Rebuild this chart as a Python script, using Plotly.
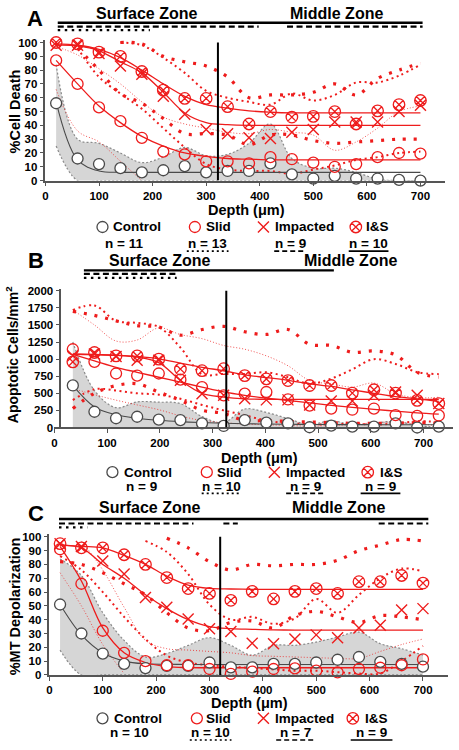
import plotly.graph_objects as go

W, H = 459, 750
FONT = "Liberation Sans, Arial, sans-serif"
RED = "#ee1c1c"
AXIS = "#555555"
CTRL = "#4a4a4a"
BAND = "#d6d6d6"

# ------------------------------------------------------------------ data
depth_A = [20, 60, 100, 140, 180, 220, 260, 300, 340, 380, 420, 460, 500, 540, 580, 620, 660, 700]
depth_B = [35, 76, 117, 157, 198, 239, 280, 321, 361, 402, 443, 484, 525, 565, 606, 647, 688, 729]
depth_C = [20, 60, 100, 140, 180, 220, 260, 300, 340, 380, 420, 460, 500, 540, 580, 620, 660, 700]

# Panel A  (%Cell Death)
ctrl_A = [56, 16, 12, 9, 6, 7.5, 10.5, 6, 7, 7, 12.5, 4.5, 1.5, 3.5, 1.5, 1.5, 0.5, 0]
slid_A = [87, 70, 53, 43, 31, 21, 19, 14, 14, 12.5, 17, 15.5, 13, 10, 12, 17, 20, 19.5]
imp_A = [98, 98, 92, 83, 77, 61, 48, 37, 34, 31, 30.5, 35, 37, 42.5, 42.5, 42.5, 50, 54.5]
is_A = [100, 99, 93, 90, 79, 65.5, 59.5, 59.5, 53.5, 41, 50, 46, 46.5, 50, 41, 50.5, 55, 58]
ctrl_fit_A = [57, 15, 7, 6, 6, 6, 6, 6, 6, 6, 6, 6, 6, 6, 6, 6, 6, 6]
slid_fit_A = [87, 70, 54, 42, 32, 25, 20, 17.5, 16, 15.5, 15, 15, 15, 15, 15, 15, 15, 15]
imp_fit_A = [98, 97.5, 94, 86, 78, 64, 49, 42, 40.5, 40, 40, 40, 40, 40, 40, 40, 40, 40]
is_fit_A = [99, 98, 95, 89, 80, 70, 61, 55, 52.5, 50.5, 49.5, 49, 49, 49, 49, 49, 49, 49]
ctrl_hi_A = [84, 30, 27, 20, 13, 17, 24, 18, 19, 27, 41, 16, 9, 9, 6, 1, 0, 0]
ctrl_lo_A = [25, 0, 0, 0, 0, 0, 0, 0, 0, 0, 0, 0, 0, 0, 0, 0, 0, 0]
slid_hi_A = [97, 91, 81, 70, 57, 46, 41, 38, 35, 34, 37, 35, 33, 22, 28, 38, 50, 54]
slid_lo_A = [66, 36, 28, 14, 0, None, None, None, None, None, None, None, None, None, None, None, None, None]
imp_hi_A = [None, None, None, 100, 98, 89, 78, 65, 60, 57, 55, 63, 58, 62, 71, 71, 76, 84]
imp_lo_A = [None, 96, 75, 63, 52, 38, 24, 12, 8, 7, 7, 5, 8, 11, 15, 17, 20, 21]
is_hi_A = [None, None, None, 100, 99, 90, 86, 83, 75, 60, 62, 62, 64, 70, 62, 74, 80, 85]
is_lo_A = [None, 96, 80, 63, 56, 45, 34, 34, 33, 26, 33, 33, 29, 27, 28, 29, 30, 30]

# Panel B  (Apoptotic cells / mm2)
ctrl_B = [615, 230, 135, 157, 115, 108, 61, 22, 108, 71, 61, 3, 27, 12, 12, 61, 0, 12]
slid_B = [1145, 960, 790, 760, 790, 700, 591, 470, 494, 519, 410, 320, 277, 260, 277, 181, 170, 176]
imp_B = [1050, 1075, 1040, 985, 985, 690, 494, 470, 422, 404, 404, 330, 388, 388, 470, 519, 470, 350]
is_B = [960, 1097, 1048, 1048, 1000, 855, 831, 860, 759, 711, 687, 614, 614, 504, 552, 504, 397, 350]
ctrl_fit_B = [615, 300, 185, 135, 105, 85, 72, 62, 55, 50, 47, 45, 43, 42, 41, 40, 40, 40]
slid_fit_B = [1070, 975, 880, 808, 735, 663, 590, 520, 470, 430, 395, 360, 325, 295, 265, 240, 215, 195]
imp_fit_B = [1070, 1065, 1055, 1030, 950, 690, 500, 445, 418, 412, 410, 410, 410, 410, 410, 410, 410, 410]
is_fit_B = [1075, 1070, 1060, 1040, 1005, 940, 880, 830, 770, 730, 690, 640, 600, 550, 500, 450, 420, 380]
ctrl_hi_B = [1250, 540, 290, 375, 370, 350, 160, 70, 270, 220, 130, 40, 100, 40, 60, 90, 30, 0]
ctrl_lo_B = [0, 0, 0, 0, 0, 0, 0, 0, 0, 0, 0, 0, 0, 0, 0, 0, 0, 0]
slid_hi_B = [1720, 1500, 1265, 1280, 1458, 1360, 1300, 1200, 1145, 1048, 903, 687, 639, 591, 649, 494, 436, 442]
slid_lo_B = [570, 480, 400, 330, 260, 170, 100, 70, 50, 40, 30, 20, 30, 40, 70, 80, 50, 30]
imp_hi_B = [1720, 1785, 1560, 1530, 1470, 1170, 780, 783, 783, 808, 735, 640, 715, 850, 1000, 930, 810, 780]
imp_lo_B = [400, 560, 540, 500, 480, 420, 330, 250, 180, 100, 60, 50, 40, 60, 40, 60, 90, 80]
is_hi_B = [1700, 1640, 1560, 1490, 1470, 1350, 1433, 1480, 1400, 1361, 1433, 1217, 1200, 1100, 1120, 1062, 808, 735]
is_lo_B = [277, 500, 614, 639, 519, 397, 253, 205, 104, 100, 90, 80, 70, 60, 60, 60, 70, 60]

# Panel C  (%MT Depolarization)
ctrl_C = [51, 30, 15.5, 8, 5, 6.5, 6.5, 9, 5.5, 5.5, 8, 8, 9, 11, 13, 9.5, 8, 6]
slid_C = [91, 66, 32, 16, 10, 7, 7, 4.3, 0.7, 2.4, 4.3, 4.8, 3.1, 1.9, 4.3, 5.2, 7, 11.2]
imp_C = [95, 93, 82.5, 73, 56, 49, 40.5, 33.5, 31.5, 23, 22.5, 26, 29, 27, 34, 36, 47, 48]
is_C = [95, 92, 92, 87, 80, 70.5, 62.5, 59, 54, 60.5, 55, 60.5, 62.5, 59, 67.5, 67.5, 72, 66.5]
ctrl_fit_C = [51, 29, 16, 10, 8, 7.7, 7.6, 7.6, 7.6, 7.6, 7.6, 7.6, 7.6, 7.6, 7.6, 7.6, 7.6, 7.6]
slid_fit_C = [93, 68, 34, 16, 9, 6, 5.3, 5.2, 5.2, 5.2, 5.2, 5.2, 5.2, 5.2, 5.2, 5.2, 5.2, 5.2]
imp_fit_C = [94, 92, 80, 70, 58, 48, 40, 35, 33.5, 33, 32.6, 32.5, 32.5, 32.5, 32.5, 32.5, 32.5, 32.5]
is_fit_C = [94, 93, 92, 86.5, 80, 71.5, 65, 62.6, 62.2, 62, 62, 62, 62, 62, 62, 62, 62, 62]
ctrl_hi_C = [84, 72, 45, 25, 13, 15.5, 21.4, 27, 21.4, 14.3, 21.4, 21.4, 23.8, 27.4, 31, 22.6, 19, 14.3]
ctrl_lo_C = [18, 0, 0, 0, 0, 0, 0, 0, 0, 0, 0, 0, 0, 0, 0, 0, 0, 0]
slid_hi_C = [None, 97, 76, 49, 25, 19, 18, 17, 16, 14, 13.5, 13, 12.5, 12, 12, 17, 22, 26]
slid_lo_C = [74, 50, 22, 1, None, None, None, None, None, None, None, None, None, None, None, None, None, None]
imp_hi_C = [None, None, None, None, 97, 89, 73, 51, 40, 42, 37, 41, 55, 45, 58, 70, 77, 75]
imp_lo_C = [86, 76, 60, 42, 26, 14, 9, 7, 6, 5, 4, 3, 3, 2, 1, 1, 10, 21]
is_hi_C = [None, None, None, None, None, 99, 92, 82, 76, 80, 79, 80, 80, 83, 90, 94, 98, 97]
is_lo_C = [82, 80, 74, 66, 58, 45, 34, 32, 38, 39, 34, 43, 46, 42, 38, 43, 42, 40]

# zone boundary depth (vertical line) per panel
zone_A, zone_B, zone_C = 322, 326, 320

# significance bars (depth ranges) per panel: (style, start, end)
sig_A = [("solid", 23, 704), ("dash", 23, 398), ("dash", 451, 704), ("dot", 23, 195)]
sig_B = [("solid", 56, 530), ("dash", 56, 232), ("dot", 56, 232)]
sig_C = [("solid", 18, 710), ("dash", 18, 270), ("dash", 326, 353), ("dash", 617, 710), ("dot", 18, 71)]

groups = ["Control", "Slid", "Impacted", "I&S"]
n_A = ["n = 11", "n = 13", "n = 9", "n = 10"]
n_B = ["n = 9", "n = 10", "n = 9", "n = 9"]
n_C = ["n = 10", "n = 10", "n = 7", "n = 9"]

x_ticks = [0, 100, 200, 300, 400, 500, 600, 700]
y_ticks_pct = [0, 10, 20, 30, 40, 50, 60, 70, 80, 90, 100]
y_ticks_B = [0, 250, 500, 750, 1000, 1250, 1500, 1750, 2000]


# ------------------------------------------------------------------ layout helpers (pixel geometry)
def fx(p):
    return p / W


def fy(p):
    return 1 - p / H


fig = go.Figure()

FINE = dict(color="rgba(238,40,40,0.8)", width=1, dash="1px,2px")
MED = dict(color=RED, width=2, dash="2px,3.5px")
BIG = dict(color=RED, width=3.2, dash="3px,8px")

MK = {
    "Control": dict(symbol="circle", size=11, color="white", line=dict(color=CTRL, width=1.3)),
    "Slid": dict(symbol="circle-open", size=11, color=RED, line=dict(color=RED, width=1.3)),
    "Impacted": dict(symbol="x-thin-open", size=11, color=RED, line=dict(color=RED, width=1.4)),
    "I&S": dict(symbol="circle-x-open", size=11.5, color=RED, line=dict(color=RED, width=1.3)),
}


def line_trace(x, y, xa, ya, line, shape="spline", **kw):
    ln = dict(line)
    ln["shape"] = shape
    ln["smoothing"] = 1
    return go.Scatter(x=x, y=y, xaxis=xa, yaxis=ya, mode="lines", line=ln,
                      hoverinfo="skip", showlegend=False, connectgaps=False, **kw)


def add_panel(xa, ya, depth, P, legends):
    # control confidence band
    fig.add_trace(line_trace(depth, P["ctrl_lo"], xa, ya, dict(color="#8a8a8a", width=1.2, dash="2px,2px")))
    fig.add_trace(line_trace(depth, P["ctrl_hi"], xa, ya, dict(color="#8a8a8a", width=1.2, dash="2px,2px"),
                             fill="tonexty", fillcolor=BAND))
    # red confidence limits
    for key, st in (("slid_hi", FINE), ("slid_lo", FINE), ("imp_hi", MED), ("imp_lo", MED),
                    ("is_hi", BIG), ("is_lo", BIG)):
        fig.add_trace(line_trace(depth, P[key], xa, ya, st))
    # fitted curves
    fig.add_trace(line_trace(depth, P["ctrl_fit"], xa, ya, dict(color=CTRL, width=1.1)))
    for key in ("slid_fit", "imp_fit", "is_fit"):
        fig.add_trace(line_trace(depth, P[key], xa, ya, dict(color=RED, width=1.3)))
    # data points (each with its own legend key)
    for g, key, lg in zip(groups, ("ctrl", "slid", "imp", "is"), legends):
        fig.add_trace(go.Scatter(x=depth, y=P[key], xaxis=xa, yaxis=ya, mode="markers",
                                 marker=MK[g], name=" ", legend=lg, showlegend=True,
                                 cliponaxis=False, hovertemplate=g + ": %{y}<extra></extra>"))


panels = [
    ("x", "y", depth_A, dict(ctrl=ctrl_A, slid=slid_A, imp=imp_A, **{"is": is_A},
                            ctrl_fit=ctrl_fit_A, slid_fit=slid_fit_A, imp_fit=imp_fit_A, is_fit=is_fit_A,
                            ctrl_hi=ctrl_hi_A, ctrl_lo=ctrl_lo_A, slid_hi=slid_hi_A, slid_lo=slid_lo_A,
                            imp_hi=imp_hi_A, imp_lo=imp_lo_A, is_hi=is_hi_A, is_lo=is_lo_A),
     ["legend", "legend2", "legend3", "legend4"]),
    ("x2", "y2", depth_B, dict(ctrl=ctrl_B, slid=slid_B, imp=imp_B, **{"is": is_B},
                              ctrl_fit=ctrl_fit_B, slid_fit=slid_fit_B, imp_fit=imp_fit_B, is_fit=is_fit_B,
                              ctrl_hi=ctrl_hi_B, ctrl_lo=ctrl_lo_B, slid_hi=slid_hi_B, slid_lo=slid_lo_B,
                              imp_hi=imp_hi_B, imp_lo=imp_lo_B, is_hi=is_hi_B, is_lo=is_lo_B),
     ["legend5", "legend6", "legend7", "legend8"]),
    ("x3", "y3", depth_C, dict(ctrl=ctrl_C, slid=slid_C, imp=imp_C, **{"is": is_C},
                              ctrl_fit=ctrl_fit_C, slid_fit=slid_fit_C, imp_fit=imp_fit_C, is_fit=is_fit_C,
                              ctrl_hi=ctrl_hi_C, ctrl_lo=ctrl_lo_C, slid_hi=slid_hi_C, slid_lo=slid_lo_C,
                              imp_hi=imp_hi_C, imp_lo=imp_lo_C, is_hi=is_hi_C, is_lo=is_lo_C),
     ["legend9", "legend10", "legend11", "legend12"]),
]
for xa, ya, depth, P, lgs in panels:
    add_panel(xa, ya, depth, P, lgs)

# ------------------------------------------------------------------ axes
TICKF = dict(family=FONT, size=11.5, color="black", weight="bold")


def xax(dom_px, rng, anchor):
    return dict(domain=[fx(dom_px[0]), fx(dom_px[1])], range=rng, anchor=anchor, showgrid=False,
                zeroline=False, showline=True, linecolor=AXIS, linewidth=1.5, ticks="outside",
                ticklen=4, tickwidth=1.2, tickcolor=AXIS, tickvals=x_ticks, tickfont=TICKF)


def yax(dom_px, rng, anchor, ticks, position=None):
    d = dict(domain=[fy(dom_px[0]), fy(dom_px[1])], range=rng, anchor=anchor, showgrid=False,
             zeroline=False, showline=True, linecolor=AXIS, linewidth=1.5, ticks="outside",
             ticklen=4, tickwidth=1.2, tickcolor=AXIS, tickvals=ticks, tickfont=TICKF)
    if position is not None:
        d["anchor"] = "free"
        d["position"] = fx(position)
    return d


fig.update_layout(
    width=W, height=H, margin=dict(l=0, r=0, t=0, b=0),
    paper_bgcolor="white", plot_bgcolor="rgba(0,0,0,0)",
    font=dict(family=FONT, size=14, color="black", weight="bold"),
    showlegend=True,
    xaxis=xax((42.7, 445), [0, 746], "y"),
    yaxis=yax((179, 36.2), [0, 102], "x", y_ticks_pct),
    xaxis2=xax((51.7, 453), [0, 756], "y2"),
    yaxis2=yax((429.2, 288.6), [0, 2030], "x2", y_ticks_B, position=57.7),
    xaxis3=xax((46.7, 448), [0, 747], "y3"),
    yaxis3=yax((680, 537.2), [0, 102], "x3", y_ticks_pct),
)

# ------------------------------------------------------------------ legends (symbols), names, n labels
legend_rows = [
    # row y, symbol x, name x, n-row y, n centers, underline y, underline spans
    (226, [100, 193, 262, 355], [109, 202, 272, 363], 243, [122, 206, 289, 368], 250.5,
     [(185, 227), (273, 305), (348, 388)], n_A, ["legend", "legend2", "legend3", "legend4"]),
    (474.5, [110, 205, 273, 367], [120, 213, 283, 377], 489, [139, 220, 304, 380], 496,
     [(200, 240), (285, 323), (360, 400)], n_B, ["legend5", "legend6", "legend7", "legend8"]),
    (724, [100, 195, 262, 352], [110, 202, 272, 362], 738.5, [127, 209, 294, 371], 746,
     [(188, 230), (275, 313), (350, 392)], n_C, ["legend9", "legend10", "legend11", "legend12"]),
]

annotations = []
shapes = []
legend_layout = {}
ANN = dict(family=FONT, size=13.5, color="black", weight="bold")
for ry, sxs, txs, ny, ncs, uy, spans, ns, lgs in legend_rows:
    for sx, lg in zip(sxs, lgs):
        legend_layout[lg] = dict(x=fx(sx - 20), y=fy(ry), xanchor="left", yanchor="middle",
                                 bgcolor="rgba(0,0,0,0)", borderwidth=0, font=dict(size=12),
                                 itemclick=False, itemdoubleclick=False)
    for tx, g in zip(txs, groups):
        annotations.append(dict(x=fx(tx), y=fy(ry), xref="paper", yref="paper", text=g,
                                showarrow=False, xanchor="left", yanchor="middle", font=ANN))
    for nc, nt in zip(ncs, ns):
        annotations.append(dict(x=fx(nc), y=fy(ny), xref="paper", yref="paper", text=nt,
                                showarrow=False, xanchor="center", yanchor="middle", font=ANN))
    for (u0, u1), dsh in zip(spans, ["2px,3px", "5px,3px", "solid"]):
        shapes.append(dict(type="line", xref="paper", yref="paper", x0=fx(u0), x1=fx(u1),
                           y0=fy(uy), y1=fy(uy), line=dict(color="black", width=1.6, dash=dsh)))
fig.update_layout(**legend_layout)

# panel letters, zone labels, axis titles
titles = [
    ("A", 32, 15, "Surface Zone", 144, 9.5, "Middle Zone", 336, 9.5,
     "%Cell Death", 12, 109, 14.5, 245, 208.5),
    ("B", 33, 260, "Surface Zone", 158, 260, "Middle Zone", 350, 260,
     "Apoptotic Cells/mm<sup>2</sup>", 9, 355, 14, 258, 460.5),
    ("C", 33, 516.7, "Surface Zone", 147, 510, "Middle Zone", 338, 510,
     "%MT Depolarization", 11.5, 610, 14.5, 248, 708.5),
]
for L, lx, ly, s, sx, sy, m, mx, my, yt, ytx, yty, ytsz, xtx, xty in titles:
    annotations.append(dict(x=fx(lx), y=fy(ly), xref="paper", yref="paper", text=L, showarrow=False,
                            xanchor="center", yanchor="middle",
                            font=dict(family=FONT, size=22, color="black", weight="bold")))
    for t, tx, ty in ((s, sx, sy), (m, mx, my)):
        annotations.append(dict(x=fx(tx), y=fy(ty), xref="paper", yref="paper", text=t, showarrow=False,
                                xanchor="center", yanchor="middle",
                                font=dict(family=FONT, size=16, color="black", weight="bold")))
    annotations.append(dict(x=fx(ytx), y=fy(yty), xref="paper", yref="paper", text=yt, showarrow=False,
                            textangle=-90, xanchor="center", yanchor="middle",
                            font=dict(family=FONT, size=ytsz, color="black", weight="bold")))
    annotations.append(dict(x=fx(xtx), y=fy(xty), xref="paper", yref="paper", text="Depth (μm)",
                            showarrow=False, xanchor="center", yanchor="middle",
                            font=dict(family=FONT, size=14.5, color="black", weight="bold")))

# significance bars above each panel (x in depth units)
sig_rows = [("x", sig_A, {"solid": 19, "dash": 23, "dot": 26.5}),
            ("x2", sig_B, {"solid": 270, "dash": 273.5, "dot": 277.5}),
            ("x3", sig_C, {"solid": 522, "dash": 526.5, "dot": 530.5})]
DASH = {"solid": "solid", "dash": "6px,3.5px", "dot": "2.5px,4.5px"}
for xa, sigs, ys in sig_rows:
    for st, a, b in sigs:
        shapes.append(dict(type="line", xref=xa, yref="paper", x0=a, x1=b, y0=fy(ys[st]), y1=fy(ys[st]),
                           line=dict(color="black", width=2.4 if st == "solid" else 2.2, dash=DASH[st])))

# vertical surface/middle zone boundary
for xa, ya, z, top in (("x", "y", zone_A, 100), ("x2", "y2", zone_B, 2000), ("x3", "y3", zone_C, 100)):
    shapes.append(dict(type="line", xref=xa, yref=ya, x0=z, x1=z, y0=0, y1=top,
                       line=dict(color="black", width=2)))

fig.update_layout(annotations=annotations, shapes=shapes)
fig.write_html("out.html", config={"displayModeBar": False},
               post_script="document.body.style.margin='0px';document.body.style.padding='0px';")
